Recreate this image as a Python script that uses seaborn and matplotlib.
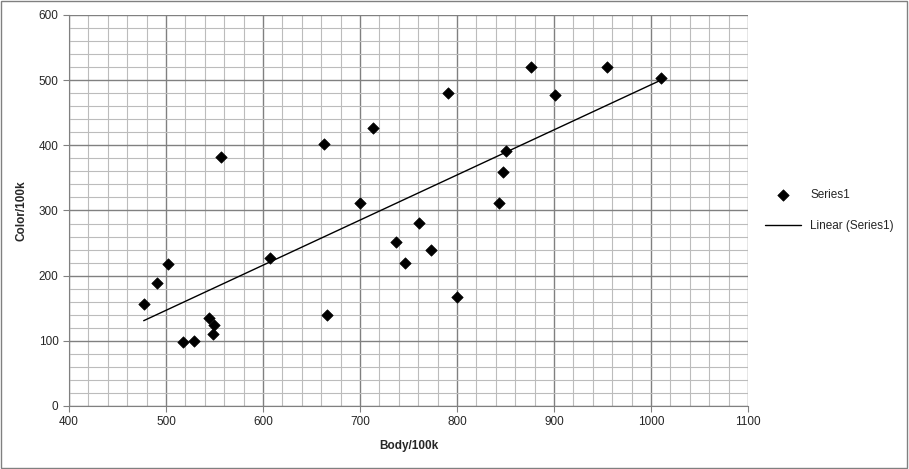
import numpy as np
import pandas as pd
import matplotlib
matplotlib.use("Agg")
import matplotlib.pyplot as plt
import seaborn as sns
from matplotlib.ticker import MultipleLocator

# values
body = [477, 491, 502, 518, 529, 544, 549, 548, 557, 607, 663, 666, 700, 713, 737,
        746, 761, 773, 791, 800, 843, 847, 851, 876, 901, 955, 1010]
color = [156, 189, 218, 98, 100, 135, 124, 111, 382, 227, 402, 139, 311, 426, 251,
         219, 281, 240, 481, 167, 312, 359, 391, 520, 478, 520, 504]

df = pd.DataFrame({"Body": body, "Color": color})

sns.set_style("white")
plt.rcParams["font.family"] = ["Liberation Sans", "DejaVu Sans"]

fig = plt.figure(figsize=(9.09, 4.69), dpi=100)
ax = fig.add_axes([69 / 909, 1 - 406 / 469, 679 / 909, 391 / 469])

sns.scatterplot(data=df, x="Body", y="Color", marker="D", s=34, color="black",
                edgecolor="black", ax=ax, label="Series1", zorder=3)

# linear trendline like Excel
k, b = np.polyfit(df["Body"], df["Color"], 1)
xs = np.array([min(body), max(body)])
ax.plot(xs, k * xs + b, color="black", lw=1, label="Linear (Series1)", zorder=2)

ax.set_xlim(400, 1100)
ax.set_ylim(0, 600)
ax.xaxis.set_major_locator(MultipleLocator(100))
ax.yaxis.set_major_locator(MultipleLocator(100))
ax.xaxis.set_minor_locator(MultipleLocator(20))
ax.yaxis.set_minor_locator(MultipleLocator(20))
ax.grid(which="minor", color="#bcbcbc", lw=0.8)
ax.grid(which="major", color="#808080", lw=1)
ax.set_axisbelow(True)
for side in ["top", "right"]:
    ax.spines[side].set_visible(False)
for side in ["left", "bottom"]:
    ax.spines[side].set_color("#808080")
ax.tick_params(which="major", length=4, direction="out", color="#808080",
               labelsize=8.5, bottom=True, left=True)
ax.tick_params(which="minor", length=0)

ax.set_xlabel("Body/100k", fontsize=8.5, fontweight="bold", labelpad=8)
ax.set_ylabel("Color/100k", fontsize=8.5, fontweight="bold", labelpad=8)

ax.legend(loc="center left", bbox_to_anchor=(1.01, 0.5), frameon=False,
          fontsize=8.5, labelspacing=1.6, handlelength=3)

fig.patches.append(plt.Rectangle((0.001, 0.002), 0.997, 0.996, transform=fig.transFigure,
                                 fill=False, edgecolor="#808080", lw=1))

fig.savefig("out.png", dpi=100)
